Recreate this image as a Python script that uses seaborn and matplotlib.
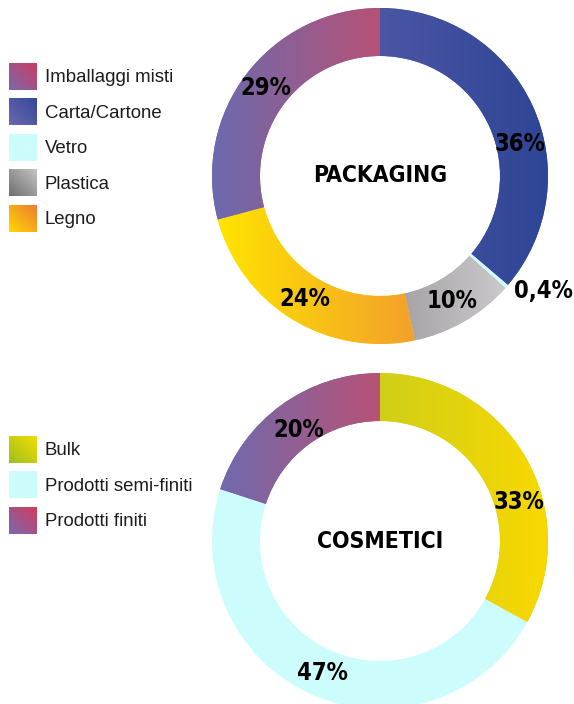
import numpy as np
import matplotlib
matplotlib.use("Agg")
import matplotlib.pyplot as plt
import seaborn as sns
from matplotlib import font_manager
from matplotlib.colors import LinearSegmentedColormap
from matplotlib.patches import Patch
from matplotlib.legend_handler import HandlerBase
from matplotlib.image import BboxImage
from matplotlib.transforms import Bbox, TransformedBbox

sns.set_theme(style="white")
plt.rcParams["font.family"] = ["Liberation Sans", "DejaVu Sans"]

# ---- data -------------------------------------------------------------
pack_names = ["Imballaggi misti", "Carta/Cartone", "Vetro", "Plastica", "Legno"]
pack_values = [29, 36, 0.4, 10, 24]
pack_texts = ["29%", "36%", "0,4%", "10%", "24%"]
pack_ring_order = [1, 2, 3, 4, 0]          # clockwise from 12 o'clock

cosm_names = ["Bulk", "Prodotti semi-finiti", "Prodotti finiti"]
cosm_values = [33, 47, 20]
cosm_texts = ["33%", "47%", "20%"]
cosm_ring_order = [0, 1, 2]

# ---- colours: (left, right) across each ring segment, (bottom-left, top-right) for keys
ring_colors = {
    "Imballaggi misti": ("#6c6aae", "#b65276"),
    "Carta/Cartone": ("#4b56a4", "#2e4595"),
    "Vetro": ("#ccfcfc", "#ccfcfc"),
    "Plastica": ("#a6a4a6", "#cccacc"),
    "Legno": ("#ffe400", "#f3a02c"),
    "Bulk": ("#d0cf18", "#f9d800"),
    "Prodotti semi-finiti": ("#ccfcfc", "#ccfcfc"),
    "Prodotti finiti": ("#6f6aae", "#b85276"),
}
key_colors = {
    "Imballaggi misti": ("#7a68ac", "#cc3c60"),
    "Carta/Cartone": ("#6a68b0", "#34479a"),
    "Vetro": ("#ccfcfc", "#ccfcfc"),
    "Plastica": ("#6e6e6e", "#c4c4c4"),
    "Legno": ("#ffd800", "#ee7c32"),
    "Bulk": ("#9cc020", "#f4dc00"),
    "Prodotti semi-finiti": ("#ccfcfc", "#ccfcfc"),
    "Prodotti finiti": ("#7868b0", "#d43c5a"),
}

available = {f.name for f in font_manager.fontManager.ttflist}
if "Liberation Sans Narrow" in available:
    bold_font = dict(family="Liberation Sans Narrow", weight="bold")
else:
    bold_font = dict(family="DejaVu Sans", stretch="condensed", weight="bold")

W, H = 574, 704
fig = plt.figure(figsize=(W / 100, H / 100), dpi=100)
fig.patch.set_facecolor("white")

R_OUT, R_IN = 168, 120

# hand-placed label tweaks: angular shift (degrees, clockwise) and radius
label_shift = {"36%": 12, "33%": 15, "0,4%": -6}
label_radius = {"0,4%": 1.19, "20%": 0.82}


def ring_axes(cx, cy):
    return fig.add_axes([(cx - R_OUT) / W, (H - cy - R_OUT) / H,
                         2 * R_OUT / W, 2 * R_OUT / H])


def gradient_fill(ax, wedge, c0, c1):
    bb = wedge.get_path().get_extents()
    cmap = LinearSegmentedColormap.from_list("seg", [c0, c1])
    grad = np.linspace(0, 1, 256)[None, :]
    im = ax.imshow(grad, cmap=cmap, extent=[bb.x0, bb.x1, bb.y0, bb.y1],
                   aspect="auto", interpolation="bicubic", zorder=2)
    im.set_clip_path(wedge)


def draw_ring(ax, names, values, texts, order, title):
    vals = [values[i] for i in order]
    mids = [ring_colors[names[i]][0] for i in order]
    wedges, _ = ax.pie(vals, startangle=90, counterclock=False, radius=1,
                       colors=mids,
                       wedgeprops=dict(width=1 - R_IN / R_OUT, linewidth=0))
    for w, i in zip(wedges, order):
        c0, c1 = ring_colors[names[i]]
        if c0 != c1:
            gradient_fill(ax, w, c0, c1)
        t = texts[i]
        ang = np.deg2rad((w.theta1 + w.theta2) / 2 - label_shift.get(t, 0))
        r = label_radius.get(t, (R_IN + R_OUT) / 2 / R_OUT)
        ax.text(r * np.cos(ang), r * np.sin(ang), t, ha="center",
                va="center", fontsize=17, color="black", zorder=5, **bold_font)
    ax.text(0, 0, title, ha="center", va="center", fontsize=16.5,
            color="black", zorder=5, **bold_font)
    ax.set_xlim(-1, 1)
    ax.set_ylim(-1, 1)
    ax.set_aspect("equal")
    ax.axis("off")


class GradientKey(HandlerBase):
    def __init__(self, c0, c1):
        super().__init__()
        self.c0, self.c1 = c0, c1

    def create_artists(self, legend, orig_handle, xdescent, ydescent,
                       width, height, fontsize, trans):
        box = TransformedBbox(Bbox.from_bounds(-xdescent, -ydescent,
                                               width, height), trans)
        cmap = LinearSegmentedColormap.from_list("key", [self.c0, self.c1])
        img = BboxImage(box, cmap=cmap, interpolation="bicubic", origin="lower")
        x = np.linspace(0, 1, 64)
        img.set_data((x[None, :] + x[:, None]) / 2)
        img.set_clim(0, 1)
        return [img]


def key_legend(names, top_px):
    handles = [Patch(facecolor=key_colors[n][1], label=n) for n in names]
    hmap = {h: GradientKey(*key_colors[n]) for h, n in zip(handles, names)}
    fs = 13.4
    pt = 72 / 100                      # points per pixel
    # legend box height = fs*h - 0.35*fs*(h - 0.7)
    hh = (27 * pt / fs - 0.245) / 0.65
    fig.legend(handles=handles, labels=names, handler_map=hmap,
               loc="upper left", bbox_to_anchor=(9 / W, 1 - top_px / H),
               frameon=False, fontsize=fs, borderpad=0, borderaxespad=0,
               handlelength=28 * pt / fs, handleheight=hh,
               handletextpad=8 * pt / fs, labelspacing=8.5 * pt / fs,
               labelcolor="#1c1c1c")


ax_pack = ring_axes(380, 176)
draw_ring(ax_pack, pack_names, pack_values, pack_texts, pack_ring_order,
          "PACKAGING")
ax_cosm = ring_axes(380, 541)
draw_ring(ax_cosm, cosm_names, cosm_values, cosm_texts, cosm_ring_order,
          "COSMETICI")

key_legend(pack_names, 63)
key_legend(cosm_names, 436)

fig.savefig("out.png", dpi=100, facecolor="white")
